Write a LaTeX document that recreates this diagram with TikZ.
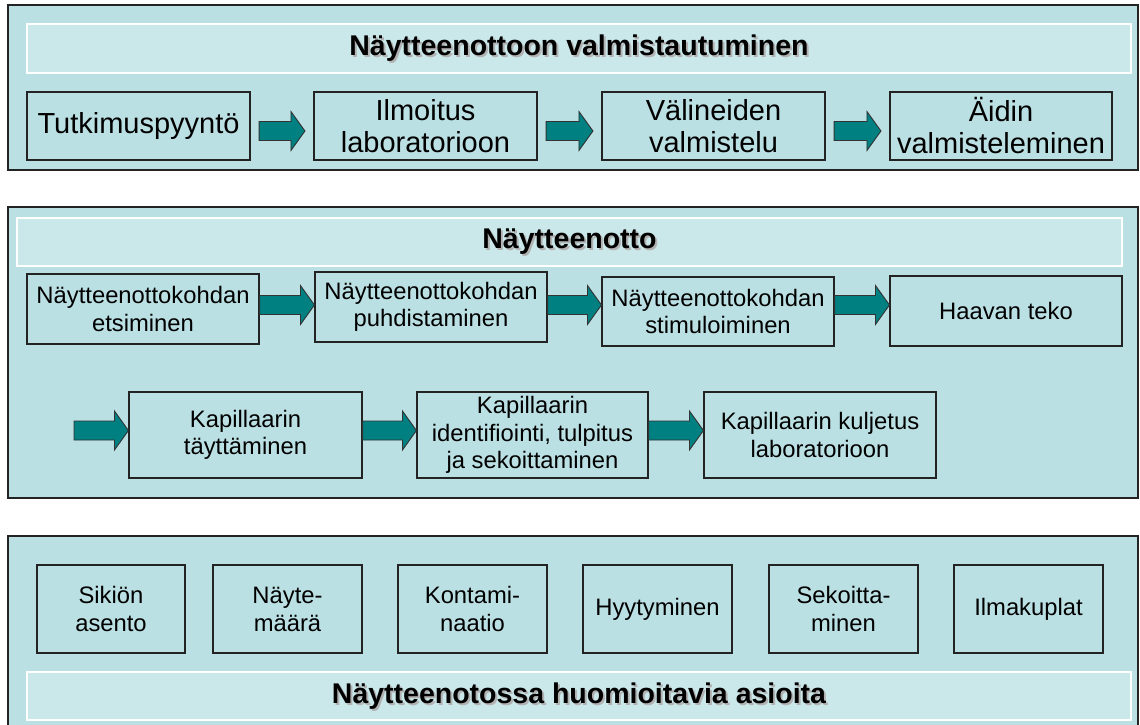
\documentclass[tikz,border=0pt]{standalone}
\usepackage{fontspec}
\setmainfont{Liberation Sans}
\usetikzlibrary{calc}
\definecolor{panelc}{RGB}{187,224,227}
\definecolor{bandc}{RGB}{202,231,234}
\definecolor{tealc}{RGB}{0,128,128}
\definecolor{edgec}{RGB}{35,35,35}
\tikzset{
  panel/.style={fill=panelc, draw=edgec, line width=1.5pt},
  band/.style={fill=bandc, draw=white, line width=1.6pt},
  basebox/.style={draw=edgec, fill=panelc, line width=1.1pt, inner sep=0pt, align=center},
  bigbox/.style={basebox, minimum width=223pt, minimum height=68pt, font=\fontsize{29}{32}\selectfont},
  midbox/.style={basebox, minimum width=232pt, font=\fontsize{23.8}{27.5}\selectfont},
  smallbox/.style={basebox, minimum width=149pt, minimum height=88pt, font=\fontsize{23.8}{28}\selectfont},
  titletext/.style={font=\fontsize{28.5}{32}\selectfont\bfseries, inner sep=0pt},
  titleshadow/.style={titletext, text=black!30},
  blockarr/.style={fill=tealc, draw=black!80, line width=0.9pt, line join=miter},
}
% block arrow from node anchor #1 to node anchor #2 at height of coordinate #3, gap #4
\newcommand\blockarrow[4]{%
  \draw[blockarr] let \p1=(#1), \p2=(#2), \p3=(#3) in
    (\x1+#4, \y3+9.5pt) -- (\x2-#4-14pt, \y3+9.5pt) -- (\x2-#4-14pt, \y3+19.5pt)
    -- (\x2-#4, \y3) -- (\x2-#4-14pt, \y3-19.5pt) -- (\x2-#4-14pt, \y3-9.5pt)
    -- (\x1+#4, \y3-9.5pt) -- cycle;}
\begin{document}
\begin{tikzpicture}[x=1pt, y=-1pt]
\useasboundingbox (0,0) rectangle (1140,725);
\fill[white] (0,0) rectangle (1140,725);

% ---------- Panel 1 ----------
\draw[panel] (8,5) rectangle (1138,170);
\draw[band] (27,24) rectangle (1131,73);
\node[titleshadow] (t1s) at (581,50.5) {Näytteenottoon valmistautuminen};
\node[titletext] (t1) at (579,48.5) {Näytteenottoon valmistautuminen};

\node[bigbox] (a1) at (138.5,126) {Tutkimuspyyntö};
\node[bigbox] (a2) at (425.5,126) {Ilmoitus\\laboratorioon};
\node[bigbox] (a3) at (713.5,126) {Välineiden\\valmistelu};
\node[bigbox, minimum width=222pt] (a4) at (1001,126) {Äidin\\valmisteleminen};
\coordinate (r1) at (0,131);
\blockarrow{a1.east}{a2.west}{r1}{8.5pt}
\blockarrow{a2.east}{a3.west}{r1}{8.5pt}
\blockarrow{a3.east}{a4.west}{r1}{8.5pt}

% ---------- Panel 2 ----------
\draw[panel] (8,207) rectangle (1138,498);
\draw[band] (17,218) rectangle (1122,266);
\node[titleshadow] (t2s) at (571.5,244) {Näytteenotto};
\node[titletext] (t2) at (569.5,242) {Näytteenotto};

\node[midbox, minimum height=70pt] (b1) at (143,309) {Näytteenottokohdan\\etsiminen};
\node[midbox, minimum height=70pt] (b2) at (431,307) {Näytteenottokohdan\\puhdistaminen};
\node[midbox, minimum height=69pt] (b3) at (718,311.5) {Näytteenottokohdan\\stimuloiminen};
\node[midbox, minimum height=70pt] (b4) at (1006,311) {Haavan teko};
\coordinate (r2) at (0,305);
\blockarrow{b1.east}{b2.west}{r2}{0pt}
\blockarrow{b2.east}{b3.west}{r2}{0pt}
\blockarrow{b3.east}{b4.west}{r2}{0pt}

\node[midbox, minimum height=86pt, minimum width=233pt] (b5) at (245.5,435) {Kapillaarin\\täyttäminen};
\node[midbox, minimum height=86pt, minimum width=231pt] (b6) at (532.5,435) {Kapillaarin\\identifiointi, tulpitus\\ja sekoittaminen};
\node[midbox, minimum height=86pt] (b7) at (820,435) {Kapillaarin kuljetus\\laboratorioon};
\coordinate (r3) at (0,430.5);
\coordinate (s0) at (74,430.5);
\blockarrow{s0}{b5.west}{r3}{0pt}
\blockarrow{b5.east}{b6.west}{r3}{0pt}
\blockarrow{b6.east}{b7.west}{r3}{0pt}

% ---------- Panel 3 ----------
\fill[panelc] (8,536) rectangle (1138,726);
\draw[draw=edgec, line width=1.5pt] (8,727) -- (8,536) -- (1138,536) -- (1138,727);
\draw[band] (27,672) rectangle (1131,720);
\node[titleshadow] (t3s) at (581,698) {Näytteenotossa huomioitavia asioita};
\node[titletext] (t3) at (579,696) {Näytteenotossa huomioitavia asioita};

\node[smallbox, minimum width=148pt] (c1) at (111,609) {Sikiön\\asento};
\node[smallbox] (c2) at (287.5,609) {Näyte-\\määrä};
\node[smallbox] (c3) at (472.5,609) {Kontami-\\naatio};
\node[smallbox] (c4) at (657.5,609) {Hyytyminen};
\node[smallbox] (c5) at (843.5,609) {Sekoitta-\\minen};
\node[smallbox] (c6) at (1028.5,609) {Ilmakuplat};
\end{tikzpicture}
\end{document}
